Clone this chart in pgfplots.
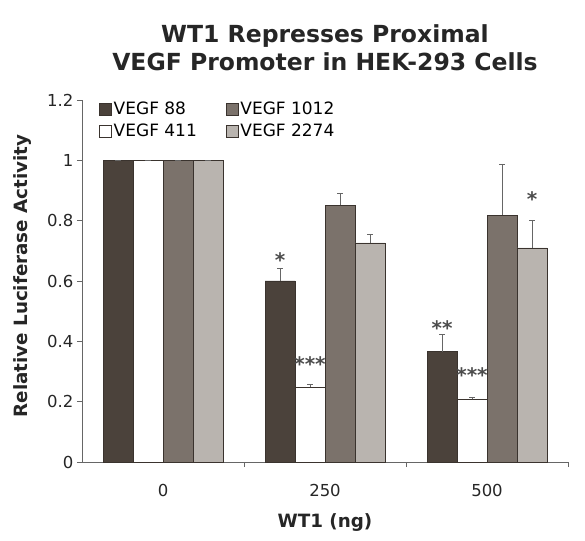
\documentclass[border=0pt]{standalone}
\usepackage{pgfplots}
\pgfplotsset{compat=1.18}
\usepackage{fontspec}
\setmainfont{DejaVu Sans}
\definecolor{c88}{HTML}{4B423B}
\definecolor{c1012}{HTML}{7B726B}
\definecolor{c2274}{HTML}{B9B4AF}
\definecolor{edge}{HTML}{3A332E}
\definecolor{axgray}{HTML}{666666}
\begin{document}
\begin{tikzpicture}
\useasboundingbox (-82pt,-78pt) rectangle (503pt,462pt);
\begin{axis}[
  at={(0pt,0pt)}, anchor=south west,
  scale only axis, width=486pt, height=362pt,
  xmin=-0.5, xmax=2.5, ymin=0, ymax=1.2,
  ybar=0pt, bar width=30pt,
  axis x line*=bottom, axis y line*=left,
  axis line style={draw=axgray, line width=0.9pt},
  every tick/.style={draw=axgray, line width=0.9pt},
  xtick={0,1,2}, xticklabels={0,250,500},
  major x tick style={draw=none},
  minor xtick={0.5,1.5,2.5},
  minor tick length=5pt,
  major tick length=5pt,
  tick align=outside,
  ytick={0,0.2,0.4,0.6,0.8,1,1.2},
  yticklabels={0,0.2,0.4,0.6,0.8,1,1.2},
  ticklabel style={font=\fontsize{16.5}{20}\selectfont, text=black!85},
  xticklabel style={yshift=-14pt},
  xlabel={WT1 (ng)},
  ylabel={Relative Luciferase Activity},
  label style={font=\bfseries\fontsize{18.3}{21}\selectfont, text=black!85},
  xlabel style={at={(axis description cs:0.5,-0.166)}, anchor=center},
  ylabel style={at={(axis description cs:-0.122,0.514)}, anchor=center, rotate=0},
  title={WT1 Represses Proximal\\VEGF Promoter  in HEK-293 Cells},
  title style={at={(axis description cs:0.5,1)}, anchor=south, yshift=20pt, xshift=0pt,
    align=center, font=\bfseries\fontsize{23.5}{28}\selectfont, text=black!85},
  legend style={at={(axis description cs:0.035,1.0)}, anchor=north west, draw=none, fill=none,
    font=\fontsize{17}{21}\selectfont, /tikz/every even column/.append style={column sep=27pt},
    row sep=4pt, inner sep=0pt},
  legend columns=2, transpose legend,
  legend image code/.code={\draw[#1, draw=edge, line width=0.5pt] (0pt,-6pt) rectangle (12pt,6pt);},
  legend cell align=left,
  error bars/y dir=plus, error bars/y explicit,
  error bars/error mark options={rotate=90, mark size=3pt, draw=black!60, line width=0.8pt},
  error bars/error bar style={draw=black!60, line width=0.8pt},
  nodes near coords style={anchor=center, font=\bfseries\fontsize{20}{20}\selectfont, text=black!70},
]
\addplot[fill=c88, draw=edge, line width=0.6pt, bar shift=-45pt] table[x=x, y=y, y error=e] {
x y e
0 1 0
1 0.600 0.042
2 0.366 0.056
};
\addlegendentry{VEGF 88}
\addplot[fill=white, draw=edge, line width=0.6pt, bar shift=-15pt] table[x=x, y=y, y error=e] {
x y e
0 1 0
1 0.248 0.010
2 0.208 0.006
};
\addlegendentry{VEGF 411}
\addplot[fill=c1012, draw=edge, line width=0.6pt, bar shift=15pt] table[x=x, y=y, y error=e] {
x y e
0 1 0
1 0.851 0.040
2 0.818 0.170
};
\addlegendentry{VEGF 1012}
\addplot[fill=c2274, draw=edge, line width=0.6pt, bar shift=45pt] table[x=x, y=y, y error=e] {
x y e
0 1 0
1 0.726 0.030
2 0.710 0.090
};
\addlegendentry{VEGF 2274}
% significance stars
\addplot[forget plot, draw=none, fill=none, bar shift=-45pt, nodes near coords,
  point meta=explicit symbolic, error bars/y dir=none] table[x=x, y=y, meta=s] {
x y s
1 0.670 *
2 0.445 **
};
\addplot[forget plot, draw=none, fill=none, bar shift=-15pt, nodes near coords,
  point meta=explicit symbolic, error bars/y dir=none] table[x=x, y=y, meta=s] {
x y s
1 0.325 ***
2 0.289 ***
};
\addplot[forget plot, draw=none, fill=none, bar shift=45pt, nodes near coords,
  point meta=explicit symbolic, error bars/y dir=none] table[x=x, y=y, meta=s] {
x y s
2 0.870 *
};
\end{axis}
\end{tikzpicture}
\end{document}
